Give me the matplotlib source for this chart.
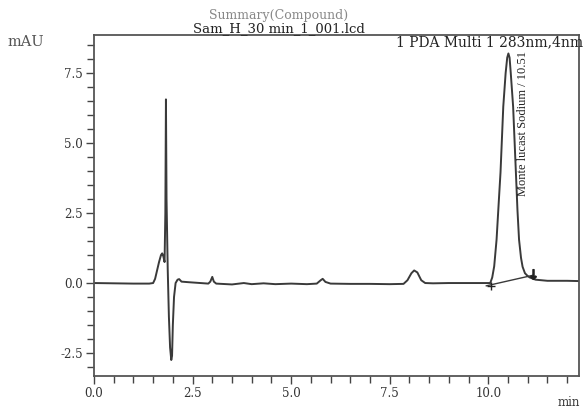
import matplotlib
matplotlib.use("Agg")
import matplotlib.pyplot as plt
from matplotlib.ticker import MultipleLocator, FormatStrFormatter

# chromatogram trace (min, mAU)
time_min = [0.0, 0.5, 1.0, 1.40, 1.50, 1.55, 1.60, 1.65, 1.70, 1.73, 1.76, 1.79,
            1.81, 1.825, 1.84, 1.87, 1.90, 1.93, 1.96, 1.98, 2.00, 2.03, 2.07,
            2.12, 2.16, 2.22, 2.4, 2.7, 2.90, 2.95, 3.00, 3.04, 3.10, 3.5, 3.8,
            4.0, 4.3, 4.6, 5.0, 5.4, 5.65, 5.75, 5.80, 5.87, 6.0, 6.5, 7.0, 7.5,
            7.85, 7.95, 8.05, 8.12, 8.20, 8.30, 8.40, 8.6, 9.0, 9.5, 9.9, 10.05,
            10.10, 10.15, 10.21, 10.27, 10.31, 10.38, 10.44, 10.48, 10.51, 10.54,
            10.57, 10.63, 10.70, 10.74, 10.78, 10.83, 10.87, 10.93, 11.0, 11.05,
            11.2, 11.5, 12.0, 12.3]
signal_mau = [0.0, -0.01, -0.02, -0.02, 0.0, 0.15, 0.45, 0.75, 1.0, 1.06, 0.95, 0.75,
              2.5, 6.56, 3.0, 0.5, -1.2, -2.3, -2.75, -2.6, -1.5, -0.5, 0.0,
              0.12, 0.14, 0.05, 0.03, 0.0, -0.02, 0.05, 0.22, 0.05, -0.02, -0.05, 0.0,
              -0.04, -0.01, -0.04, -0.02, -0.04, -0.02, 0.10, 0.15, 0.04, -0.02, -0.03, -0.03, -0.04,
              -0.03, 0.10, 0.35, 0.45, 0.38, 0.10, 0.0, -0.01, 0.0, 0.0, 0.0, 0.0,
              0.2, 0.6, 1.55, 3.0, 3.95, 6.3, 7.5, 8.05, 8.2, 8.05,
              7.5, 6.3, 3.95, 2.6, 1.55, 0.9, 0.58, 0.35, 0.25, 0.2,
              0.12, 0.08, 0.08, 0.07]

# integration baseline and peak start / end marks
base_t = [9.95, 11.14]
base_y = [-0.10, 0.28]
peak_start = (10.07, -0.12)
peak_end = (11.14, 0.33)
peak_label = "Monte lucast Sodium / 10.51"
peak_label_pos = (10.88, 8.3)

fig = plt.figure(figsize=(5.83, 4.12), dpi=100)
ax = fig.add_axes([0.1612, 0.0874, 0.8319, 0.8277])

ax.plot(time_min, signal_mau, color="#3a3a3a", lw=1.4)
ax.plot(base_t, base_y, color="#3a3a3a", lw=1.0)
ax.plot(*peak_start, marker="+", ms=6, mew=1.0, color="#222222")
ax.plot(*peak_end, marker=r"$\downarrow$", ms=7, color="#222222")

ax.text(peak_label_pos[0], peak_label_pos[1], peak_label, rotation=90,
        ha="center", va="top", family="Liberation Serif", fontsize=9,
        color="#222222")

ax.set_xlim(0, 12.3)
ax.set_ylim(-3.32, 8.86)
ax.xaxis.set_major_locator(MultipleLocator(2.5))
ax.xaxis.set_minor_locator(MultipleLocator(0.5))
ax.yaxis.set_major_locator(MultipleLocator(2.5))
ax.yaxis.set_minor_locator(MultipleLocator(0.5))
ax.xaxis.set_major_formatter(FormatStrFormatter("%.1f"))
ax.yaxis.set_major_formatter(FormatStrFormatter("%.1f"))
ax.tick_params(which="both", direction="out", color="#444444", width=1.0)
ax.tick_params(which="major", length=6, labelsize=8.5, labelcolor="#333333", pad=2)
ax.tick_params(which="minor", length=5)
for lab in ax.get_xticklabels() + ax.get_yticklabels():
    lab.set_family("DejaVu Serif")
for s in ax.spines.values():
    s.set_color("#555555")
    s.set_linewidth(1.3)

fig.text(279 / 583, 1 - 15 / 412, "Summary(Compound)", ha="center", va="center",
         family="DejaVu Serif", fontsize=9, color="#888888")
fig.text(279 / 583, 1 - 28.5 / 412, "Sam_H_30 min_1_001.lcd", ha="center", va="center",
         family="DejaVu Serif", fontsize=9.5, color="#222222")
fig.text(583 / 583, 1 - 42 / 412, "1 PDA Multi 1 283nm,4nm", ha="right", va="center",
         family="DejaVu Serif", fontsize=10, color="#222222")
fig.text(8 / 583, 1 - 42 / 412, "mAU", ha="left", va="center",
         family="DejaVu Serif", fontsize=10.5, color="#555555")
fig.text(580 / 583, 1 - 403 / 412, "min", ha="right", va="center",
         family="DejaVu Serif", fontsize=8.5, color="#333333")

fig.savefig("out.png", dpi=100)
